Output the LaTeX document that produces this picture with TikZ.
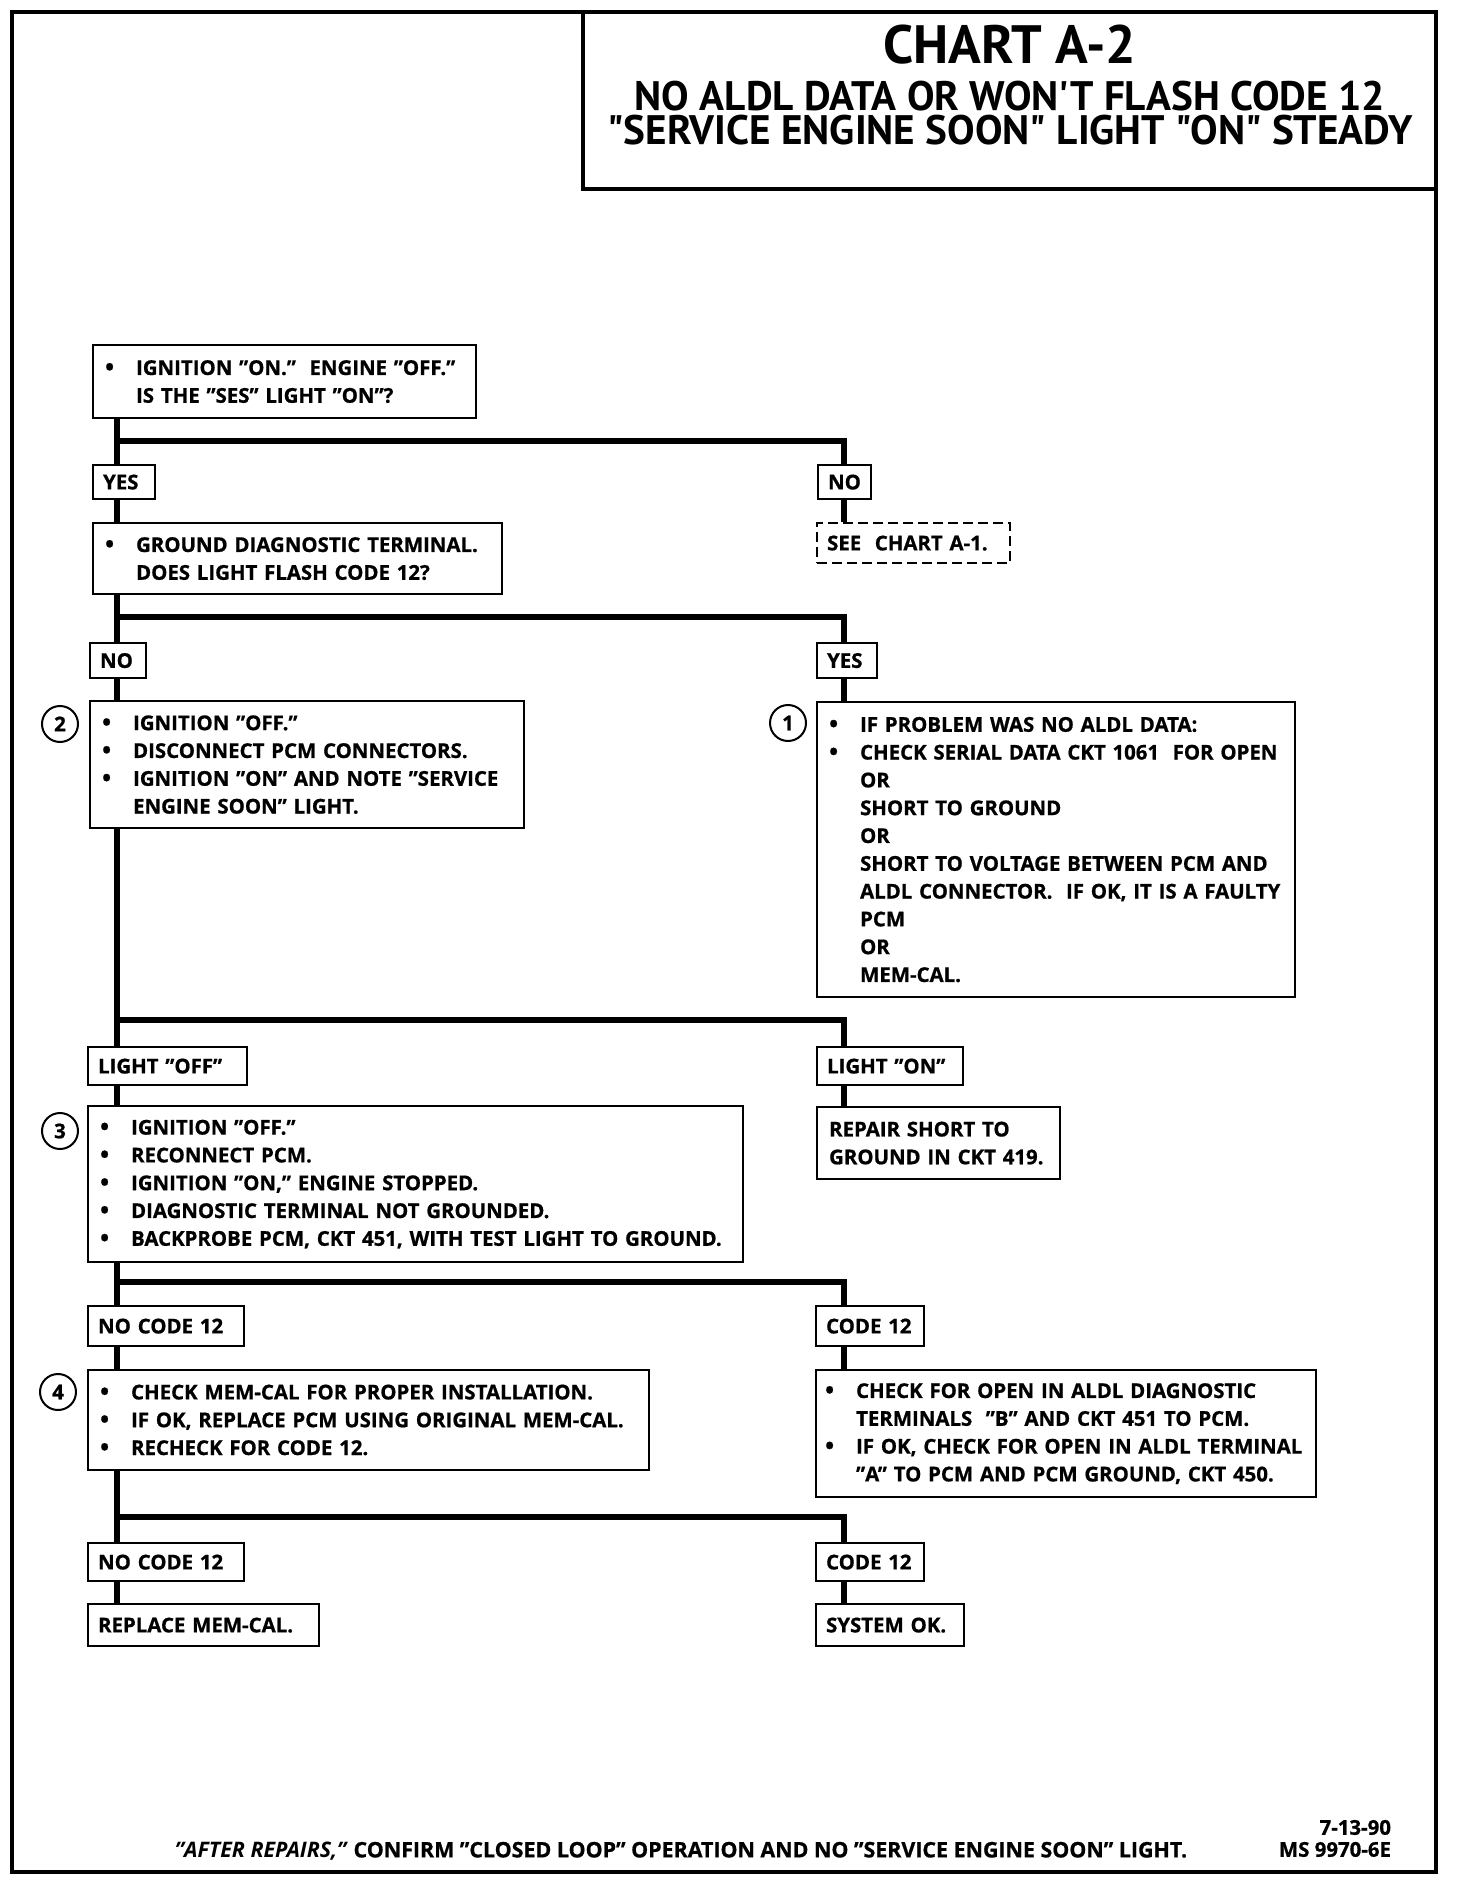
\documentclass[tikz,border=0pt]{standalone}
\usepackage{fontspec}
\setmainfont{Open Sans}[BoldFeatures={FakeBold=0.8}]
\newfontfamily\titlefont{PT Sans}
\usetikzlibrary{positioning}

\tikzset{
  stepbox/.style={draw, line width=1.1pt, fill=white, anchor=north west, align=left,
    inner xsep=6pt, inner ysep=0pt, font=\bfseries\fontsize{10.2}{13.9}\selectfont},
  tag/.style={draw, line width=1.1pt, fill=white, anchor=north west, align=left,
    inner xsep=5pt, inner ysep=0pt, font=\bfseries\fontsize{10.2}{12}\selectfont},
  flow/.style={line width=3.4pt},
  num/.style={draw, circle, line width=1pt, minimum size=18pt, inner sep=0pt,
    font=\bfseries\fontsize{10.2}{12}\selectfont},
  frame/.style={line width=1.6pt}
}
\newcommand{\bl}{\makebox[15.5pt][l]{\raisebox{-0.3pt}{\large\textbullet}}}
\newcommand{\ind}{\hspace*{15.5pt}}

\begin{document}
\begin{tikzpicture}[x=0.5pt,y=-0.5pt]
\useasboundingbox (0,0) rectangle (1456,1882);
\draw [frame] (12,12) rectangle (1436,1872);
\draw [frame] (583,12) rectangle (1436,189);
\node [inner sep=0pt, font=\titlefont\bfseries\fontsize{27}{28}\selectfont] (title) at (1010,45) {CHART A-2};
\node [inner sep=0pt, align=center, font=\titlefont\bfseries\fontsize{20.6}{17}\selectfont] (sub) at (1010,113)
  {NO ALDL DATA OR WON'T FLASH CODE 12\\ "SERVICE ENGINE SOON" LIGHT "ON" STEADY};

\coordinate (trunk) at (117,0);
\coordinate (rtrunk) at (844,0);
\coordinate (j1) at (117,441);
\coordinate (j2) at (117,617);
\coordinate (j3) at (117,1020);
\coordinate (j4) at (117,1282);
\coordinate (j5) at (117,1517);

\node [stepbox, text width=179.5pt, minimum height=36.5pt] (ign) at (92,344)
  {\bl IGNITION "ON."\ \ ENGINE "OFF."\\ \ind IS THE "SES" LIGHT "ON"?};
\node [tag, text width=21pt, minimum height=17pt] (yes1) at (92,464) {YES};
\node [tag, text width=16.5pt, minimum height=17pt] (no1) at (817,464) {NO};
\node [stepbox, text width=192.5pt, minimum height=35.5pt] (gnd) at (92,522)
  {\bl GROUND DIAGNOSTIC TERMINAL.\\ \ind DOES LIGHT FLASH CODE 12?};
\node [tag, dashed, dash pattern=on 5pt off 2.5pt, text width=86.5pt, minimum height=20pt] (seea) at (816,522)
  {SEE\ \ CHART A-1.};
\node [tag, text width=18pt, minimum height=17.5pt] (no2) at (89,642) {NO};
\node [tag, text width=20pt, minimum height=17.5pt] (yes2) at (816,642) {YES};
\node [stepbox, text width=205pt, minimum height=63.5pt] (disc) at (89,700)
  {\bl IGNITION "OFF."\\ \bl DISCONNECT PCM CONNECTORS.\\ \bl IGNITION "ON" AND NOTE "SERVICE\\ \ind ENGINE SOON" LIGHT.};
\node [num] (n2) at (60,724) {2};
\node [stepbox, text width=227pt, minimum height=147.5pt] (serial) at (816,701)
  {\bl IF PROBLEM WAS NO ALDL DATA:\\ \bl CHECK SERIAL DATA CKT 1061\ \ FOR OPEN\\ \ind OR\\ \ind SHORT TO GROUND\\ \ind OR\\
   \ind SHORT TO VOLTAGE BETWEEN PCM AND\\ \ind ALDL CONNECTOR.\ \ IF OK, IT IS A FAULTY\\ \ind PCM\\ \ind OR\\ \ind MEM-CAL.};
\node [num] (n1) at (788,723) {1};
\node [tag, text width=69.5pt, minimum height=19pt] (loff) at (87,1046) {LIGHT "OFF"};
\node [tag, text width=63pt, minimum height=19pt] (lon) at (816,1046) {LIGHT "ON"};
\node [stepbox, text width=315.5pt, minimum height=78pt] (recon) at (87,1105)
  {\bl IGNITION "OFF."\\ \bl RECONNECT PCM.\\ \bl IGNITION "ON," ENGINE STOPPED.\\ \bl DIAGNOSTIC TERMINAL NOT GROUNDED.\\
   \bl BACKPROBE PCM, CKT 451, WITH TEST LIGHT TO GROUND.};
\node [num] (n3) at (60,1131) {3};
\node [stepbox, text width=109.5pt, minimum height=36pt] (rep) at (816,1106)
  {REPAIR SHORT TO\\ GROUND IN CKT 419.};
\node [tag, text width=68pt, minimum height=20pt] (nc1) at (87,1305) {NO CODE 12};
\node [tag, text width=44pt, minimum height=20pt] (c1) at (815,1305) {CODE 12};
\node [stepbox, text width=268.5pt, minimum height=50pt] (mem) at (87,1369)
  {\bl CHECK MEM-CAL FOR PROPER INSTALLATION.\\ \bl IF OK, REPLACE PCM USING ORIGINAL MEM-CAL.\\ \bl RECHECK FOR CODE 12.};
\node [num] (n4) at (58,1392) {4};
\node [stepbox, text width=241pt, inner xsep=4.5pt, minimum height=63.5pt] (open) at (815,1369)
  {\bl CHECK FOR OPEN IN ALDL DIAGNOSTIC\\ \ind TERMINALS\ \ "B" AND CKT 451 TO PCM.\\ \bl \mbox{IF OK, CHECK FOR OPEN IN ALDL TERMINAL}\\ \ind "A" TO PCM AND PCM GROUND, CKT 450.};
\node [tag, text width=68pt, minimum height=19pt] (nc2) at (87,1542) {NO CODE 12};
\node [tag, text width=44pt, minimum height=19pt] (c2) at (815,1542) {CODE 12};
\node [tag, text width=105.5pt, minimum height=21pt] (repl) at (87,1603) {REPLACE MEM-CAL.};
\node [tag, text width=64pt, minimum height=21pt] (sysok) at (815,1603) {SYSTEM OK.};

\draw [flow] (ign.south -| trunk) -- (yes1.north -| trunk);
\draw [flow] (j1) -| (no1.north -| rtrunk);
\draw [flow] (yes1.south -| trunk) -- (gnd.north -| trunk);
\draw [flow] (no1.south -| rtrunk) -- (seea.north -| rtrunk);
\draw [flow] (gnd.south -| trunk) -- (no2.north -| trunk);
\draw [flow] (j2) -| (yes2.north -| rtrunk);
\draw [flow] (no2.south -| trunk) -- (disc.north -| trunk);
\draw [flow] (yes2.south -| rtrunk) -- (serial.north -| rtrunk);
\draw [flow] (disc.south -| trunk) -- (loff.north -| trunk);
\draw [flow] (j3) -| (lon.north -| rtrunk);
\draw [flow] (loff.south -| trunk) -- (recon.north -| trunk);
\draw [flow] (lon.south -| rtrunk) -- (rep.north -| rtrunk);
\draw [flow] (recon.south -| trunk) -- (nc1.north -| trunk);
\draw [flow] (j4) -| (c1.north -| rtrunk);
\draw [flow] (nc1.south -| trunk) -- (mem.north -| trunk);
\draw [flow] (c1.south -| rtrunk) -- (open.north -| rtrunk);
\draw [flow] (mem.south -| trunk) -- (nc2.north -| trunk);
\draw [flow] (j5) -| (c2.north -| rtrunk);
\draw [flow] (nc2.south -| trunk) -- (repl.north -| trunk);
\draw [flow] (c2.south -| rtrunk) -- (sysok.north -| rtrunk);

\node [font=\bfseries\fontsize{10.7}{12}\selectfont] (foot) at (681,1851)
  {\textit{"AFTER REPAIRS,"} CONFIRM "CLOSED LOOP" OPERATION AND NO "SERVICE ENGINE SOON" LIGHT.};
\node [anchor=south east, align=right, font=\bfseries\fontsize{10.2}{11}\selectfont] (date) at (1398,1864)
  {7-13-90\\ MS 9970-6E};
\end{tikzpicture}
\end{document}
